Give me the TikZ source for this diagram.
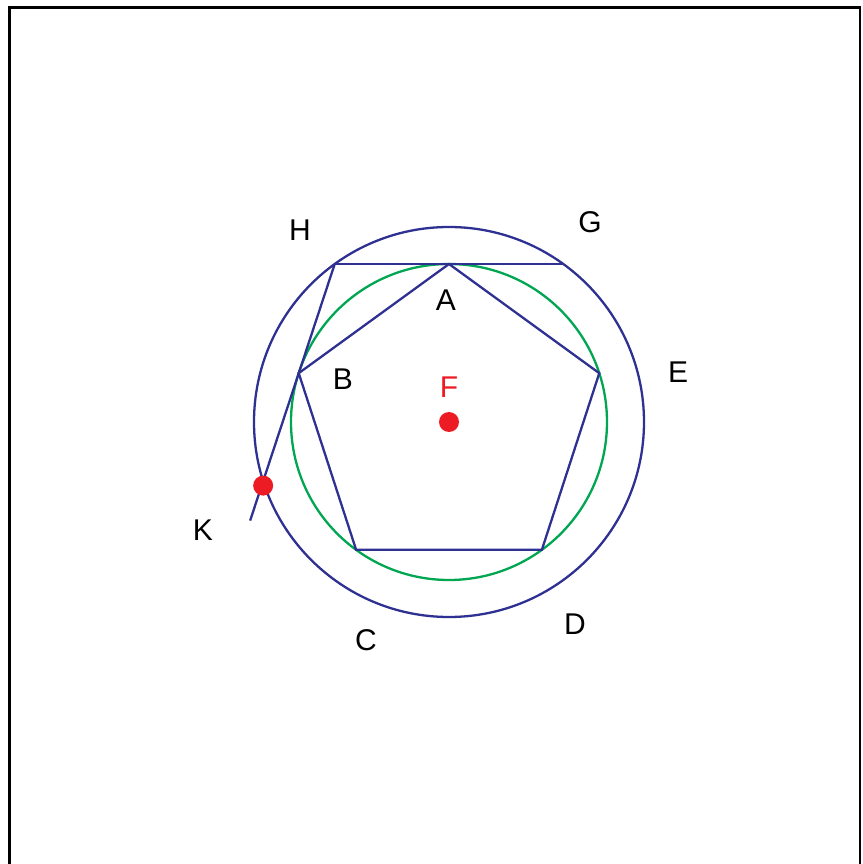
\documentclass[tikz,border=0pt]{standalone}
\usepackage{fontspec}
\setmainfont{Liberation Sans}
\usetikzlibrary{calc}
\definecolor{azul}{RGB}{46,49,146}
\definecolor{verde}{RGB}{0,166,81}
\definecolor{rojo}{RGB}{237,28,36}

\begin{document}
\begin{tikzpicture}[x=1pt,y=1pt,
  etiqueta/.style={font=\fontsize{30}{36}\selectfont, inner sep=0pt},
  linea/.style={draw=azul, line width=2.3pt}]
\useasboundingbox (-449,-442) rectangle (413,422);
%% marco (sin lado inferior visible)
\draw[line width=2.5pt] (-439.5,-450) -- (-439.5,414.5) -- (411,414.5) -- (411,-450);

%% radios: circulo exterior y circulo verde
\def\iR{195}
\def\ir{158}
\coordinate (F) at (0,0);
\draw[linea] (F) circle[radius=\iR pt];
\draw[verde, line width=2.3pt] (F) circle[radius=\ir pt];

%%% pentagono inscrito en el circulo verde %%%%%%%%%%%%
\foreach \iN/\iAng in {A/90,B/162,C/234,D/306,E/18}{
\coordinate (\iN) at (\iAng:\ir);
}
\draw[linea] (A) -- (B) -- (C) -- (D) -- (E) -- cycle;

%%% tangente por A, corta al circulo exterior en H y G
\coordinate (H) at ({-10*sqrt((\iR/10)^2-(\ir/10)^2)},\ir);
\coordinate (G) at ({10*sqrt((\iR/10)^2-(\ir/10)^2)},\ir);
\draw[linea] (H) -- (G);

%%% recta H--B prolongada hasta K
\coordinate (K) at ($(H)!2.03!(B)+(1.5,0)$);
\coordinate (Kfin) at ($(H)!2.35!(B)$);
\draw[linea] (H) -- (Kfin);

\fill[rojo] (F) circle[radius=10pt];
\fill[rojo] (K) circle[radius=10pt];

%%%%%%%%%%%%%%%%%%%%%%%%%%%%%%%%%%%%%%%%%%%%%%%%%%%%%
\node[etiqueta] (lH) at (-149,192) {H};
\node[etiqueta] (lG) at (141,200) {G};
\node[etiqueta] (lA) at (-3,122) {A};
\node[etiqueta] (lB) at (-106,43) {B};
\node[etiqueta] (lE) at (229,50) {E};
\node[etiqueta, text=rojo] (lF) at (0,35) {F};
\node[etiqueta] (lK) at (-246,-108) {K};
\node[etiqueta] (lC) at (-83,-218) {C};
\node[etiqueta] (lD) at (126,-202) {D};
%%%%%%%%%%%%%%%%%%%%%%%%%%%%%%%%%%%%%%%%%%%%%%%%%%%%%
\end{tikzpicture}
\end{document}
